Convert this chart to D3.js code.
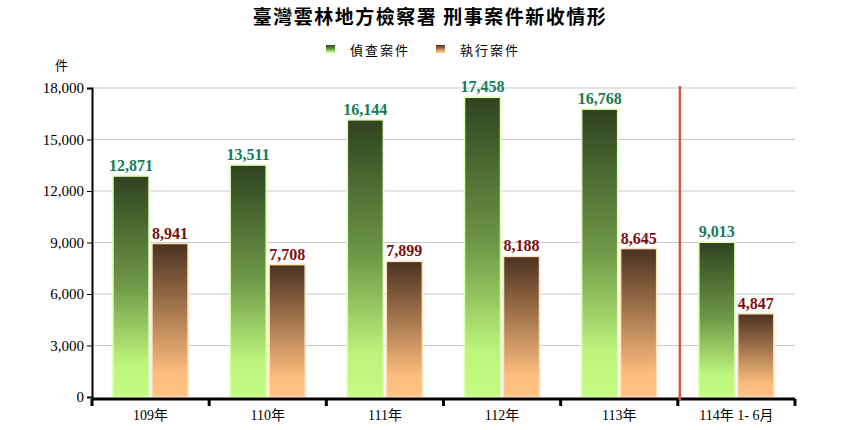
<!DOCTYPE html>
<html><head><meta charset="utf-8">
<script src="https://cdn.jsdelivr.net/npm/d3@7"></script>
<style>body{margin:0;background:#fff}</style></head>
<body><svg id="c" width="860" height="430"></svg>
<script>
const categories=["109年","110年","111年","112年","113年","114年 1- 6月"];
const investigation=[12871,13511,16144,17458,16768,9013];
const execution=[8941,7708,7899,8188,8645,4847];
const seriesNames=["偵查案件","執行案件"];
const yTicks=[0,3000,6000,9000,12000,15000,18000];

const svg=d3.select("#c");
const L=92,R=795,T=88,B=397;
const x=d3.scaleBand().domain(categories).range([L,R]);
const y=d3.scaleLinear().domain([0,18000]).range([B,T]);
const defs=svg.append("defs");
const g1=defs.append("linearGradient").attr("id","gG").attr("x1",0).attr("x2",0).attr("y1",0).attr("y2",1);
g1.append("stop").attr("offset","0%").attr("stop-color","#2e4320");
g1.append("stop").attr("offset","50%").attr("stop-color","#6f9a48");
g1.append("stop").attr("offset","85%").attr("stop-color","#bdf57c");
g1.append("stop").attr("offset","100%").attr("stop-color","#c4fb82");
const g2=defs.append("linearGradient").attr("id","gO").attr("x1",0).attr("x2",0).attr("y1",0).attr("y2",1);
g2.append("stop").attr("offset","0%").attr("stop-color","#4a3220");
g2.append("stop").attr("offset","45%").attr("stop-color","#a97a50");
g2.append("stop").attr("offset","85%").attr("stop-color","#fdbd7e");
g2.append("stop").attr("offset","100%").attr("stop-color","#ffc484");

svg.append("text").attr("x",430).attr("y",24).attr("text-anchor","middle")
 .attr("font-family","Noto Sans CJK TC").attr("font-weight","bold").attr("font-size",19).attr("letter-spacing",1.5)
 .text("臺灣雲林地方檢察署 刑事案件新收情形");
// legend
const leg=[{n:seriesNames[0],f:"url(#gG)",x:326},{n:seriesNames[1],f:"url(#gO)",x:436}];
leg.forEach(d=>{
 svg.append("rect").attr("x",d.x).attr("y",45).attr("width",9).attr("height",8).attr("fill",d.f);
 svg.append("text").attr("x",d.x+24).attr("y",55).attr("font-family","Noto Sans CJK TC").attr("font-size",13).attr("letter-spacing",2).text(d.n);
});
svg.append("text").attr("x",55).attr("y",70).attr("font-family","Noto Sans CJK TC").attr("font-size",13).text("件");

// grid
svg.append("g").selectAll("line").data(yTicks.slice(1)).join("line")
 .attr("x1",L).attr("x2",R).attr("y1",d=>y(d)).attr("y2",d=>y(d)).attr("stroke","#c8c8c8");
// y axis
const ya=svg.append("g").attr("transform",`translate(${L},0)`).call(d3.axisLeft(y).tickValues(yTicks).tickFormat(d3.format(",")).tickSize(5));
ya.selectAll("text").attr("font-family","Liberation Serif").attr("font-size",15).attr("fill","#000");
ya.select(".domain").attr("stroke","#000").attr("stroke-width",2);

const bw=36, off=21;
categories.forEach((c,i)=>{
 const bx=x(c)+off;
 [[investigation[i],"url(#gG)","#167c53",bx,"#dfffb0"],[execution[i],"url(#gO)","#7a1010",bx+bw+3,"#ffe0b8"]].forEach(([v,f,tc,xx,st])=>{
  svg.append("rect").attr("x",xx).attr("y",y(v)).attr("width",bw).attr("height",B-y(v)).attr("fill",f).attr("stroke",st).attr("stroke-width",1.5);
  svg.append("text").attr("x",xx+bw/2).attr("y",y(v)-5).attr("text-anchor","middle")
   .attr("font-family","Liberation Serif").attr("font-weight","bold").attr("font-size",16).attr("fill",tc).text(d3.format(",")(v));
 });
});
// x axis
svg.append("line").attr("x1",L).attr("x2",R).attr("y1",B+2).attr("y2",B+2).attr("stroke","#000").attr("stroke-width",3);
svg.append("g").selectAll("line").data(categories.concat(["_end"])).join("line")
 .attr("x1",(d,i)=>L+i*x.bandwidth()).attr("x2",(d,i)=>L+i*x.bandwidth()).attr("y1",B+2).attr("y2",B+9).attr("stroke","#000").attr("stroke-width",3);
svg.append("g").selectAll("text").data(categories).join("text")
 .attr("x",d=>x(d)+x.bandwidth()/2).attr("y",B+23).attr("text-anchor","middle")
 .attr("font-family","Liberation Serif, Noto Sans CJK TC").attr("font-size",14).text(d=>d);
// separator
svg.append("line").attr("x1",x(categories[5])+2).attr("x2",x(categories[5])+2).attr("y1",86).attr("y2",B+3).attr("stroke","#d9534f").attr("stroke-width",2.5);
</script></body></html>
